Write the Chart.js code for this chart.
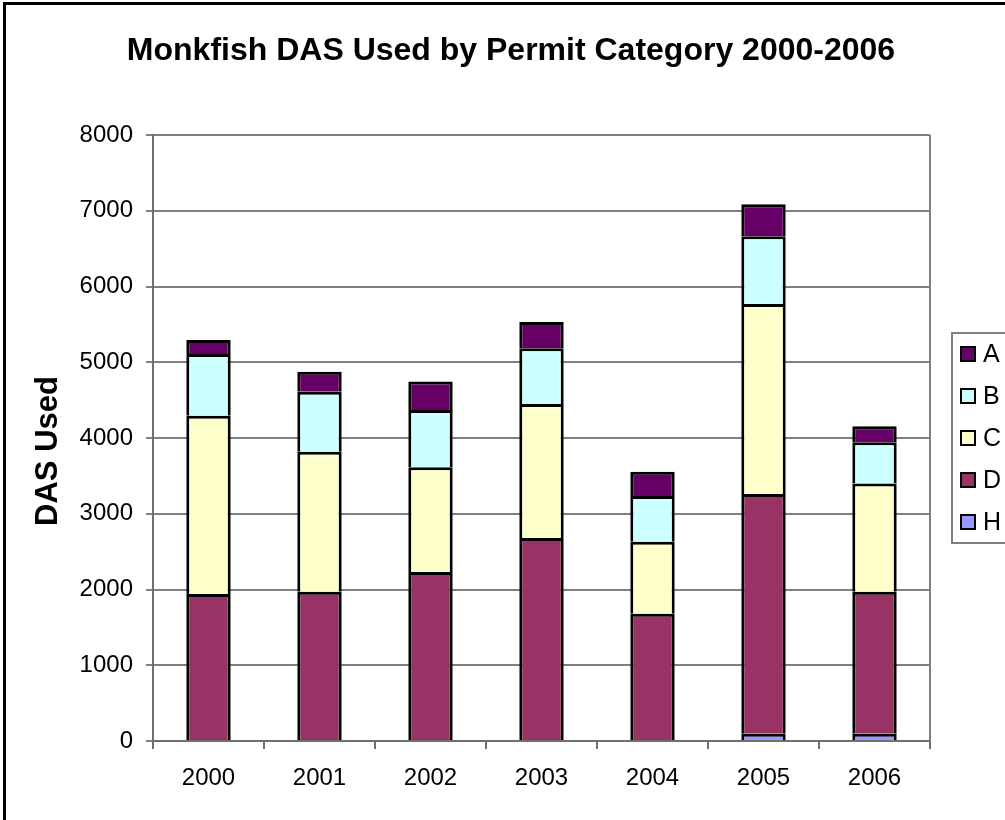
<!DOCTYPE html>
<html>
<head>
<meta charset="utf-8">
<title>Monkfish DAS Used by Permit Category 2000-2006</title>
<script src="https://cdn.jsdelivr.net/npm/chart.js@4/dist/chart.umd.min.js"></script>
<style>
  html, body { margin: 0; padding: 0; background: #fff; }
  #wrap { width: 1005px; height: 820px; position: relative; }
</style>
</head>
<body>
<div id="wrap"><canvas id="chart" width="1005" height="820"></canvas></div>
<script>
const years = ["2000", "2001", "2002", "2003", "2004", "2005", "2006"];
const yTicks = [0, 1000, 2000, 3000, 4000, 5000, 6000, 7000, 8000];

// DAS used per permit category, stacked bottom to top: H, D, C, B, A
const catH = [0, 0, 0, 0, 0, 95, 95];
const catD = [1940, 1970, 2230, 2680, 1680, 3165, 1875];
const catC = [2355, 1850, 1385, 1770, 950, 2510, 1430];
const catB = [815, 790, 755, 735, 605, 895, 545];
const catA = [185, 265, 375, 345, 320, 420, 210];

const FONT = "'Liberation Sans', Arial, sans-serif";

//
// PLUGINS
//

// outer frame, titles, plot border and the boxed legend on the right
const decorations = {
  id: "decorations",
  beforeDraw(chart) {
    const ctx = chart.ctx;
    ctx.save();
    ctx.fillStyle = "#fff";
    ctx.fillRect(0, 0, chart.width, chart.height);
    ctx.strokeStyle = "#000";
    ctx.lineWidth = 3;
    ctx.beginPath();
    ctx.moveTo(4.5, chart.height);
    ctx.lineTo(4.5, 3.5);
    ctx.lineTo(chart.width, 3.5);
    ctx.stroke();
    ctx.restore();
  },
  afterDraw(chart) {
    const ctx = chart.ctx;
    const area = chart.chartArea;
    ctx.save();

    // chart title
    ctx.fillStyle = "#000";
    ctx.font = "bold 32px " + FONT;
    ctx.textAlign = "center";
    ctx.textBaseline = "middle";
    ctx.fillText("Monkfish DAS Used by Permit Category 2000-2006", 511, 51);

    // value axis title
    ctx.save();
    ctx.translate(48, 451);
    ctx.rotate(-Math.PI / 2);
    ctx.font = "bold 31px " + FONT;
    ctx.fillText("DAS Used", 0, 0);
    ctx.restore();

    // right edge of the plot area
    ctx.strokeStyle = "#808080";
    ctx.lineWidth = 2;
    ctx.beginPath();
    ctx.moveTo(area.right, area.top);
    ctx.lineTo(area.right, area.bottom);
    ctx.stroke();

    // legend, top item is the top of the stack
    const sets = chart.data.datasets.slice().reverse();
    const boxLeft = 952, boxTop = 333, boxBottom = 543;
    ctx.strokeStyle = "#808080";
    ctx.lineWidth = 2;
    ctx.strokeRect(boxLeft, boxTop, 80, boxBottom - boxTop);
    ctx.font = "25px " + FONT;
    ctx.textAlign = "left";
    ctx.textBaseline = "middle";
    const step = (boxBottom - boxTop) / sets.length;
    sets.forEach((ds, i) => {
      const cy = boxTop + step * (i + 0.5);
      ctx.fillStyle = ds.backgroundColor;
      ctx.fillRect(961, cy - 7, 14, 14);
      ctx.strokeStyle = "#000";
      ctx.lineWidth = 2;
      ctx.strokeRect(961, cy - 7, 14, 14);
      ctx.fillStyle = "#000";
      ctx.fillText(ds.label, 983, cy + 1);
    });
    ctx.restore();
  },
};

//
// CHART
//

function barSet(label, data, color) {
  return {
    label: label,
    // empty segments are left out so they leave no outline on the axis
    data: data.map((v) => (v === 0 ? null : v)),
    backgroundColor: color,
    borderColor: "#000",
    borderWidth: 3,
    borderSkipped: "start",
    inflateAmount: 0,
    barPercentage: 0.4,
    categoryPercentage: 1.0,
  };
}

new Chart(document.getElementById("chart"), {
  type: "bar",
  data: {
    labels: years,
    datasets: [
      barSet("H", catH, "#9999FF"),
      barSet("D", catD, "#993366"),
      barSet("C", catC, "#FFFFCC"),
      barSet("B", catB, "#CCFFFF"),
      barSet("A", catA, "#660066"),
    ],
  },
  options: {
    responsive: false,
    animation: false,
    events: [],
    layout: { padding: { top: 135, right: 75, left: 0, bottom: 0 } },
    plugins: {
      legend: { display: false },
      title: { display: false },
      tooltip: { enabled: false },
    },
    scales: {
      x: {
        stacked: true,
        afterFit: (scale) => { scale.height = 79; },
        grid: {
          offset: true,
          drawOnChartArea: false,
          color: "#707070",
          lineWidth: 2,
          tickLength: 8,
        },
        border: { color: "#707070", width: 2 },
        ticks: {
          color: "#000",
          font: { family: FONT, size: 24 },
          padding: 15,
          maxRotation: 0,
        },
      },
      y: {
        stacked: true,
        min: 0,
        max: 8000,
        afterFit: (scale) => { scale.width = 153; },
        afterBuildTicks: (scale) => {
          scale.ticks = yTicks.map((v) => ({ value: v }));
        },
        grid: {
          color: "#808080",
          lineWidth: 2,
          tickLength: 7,
        },
        border: { color: "#707070", width: 2 },
        ticks: {
          color: "#000",
          font: { family: FONT, size: 24 },
          padding: 13,
          callback: (value) => String(value),
        },
      },
    },
  },
  plugins: [decorations],
});
</script>
</body>
</html>
